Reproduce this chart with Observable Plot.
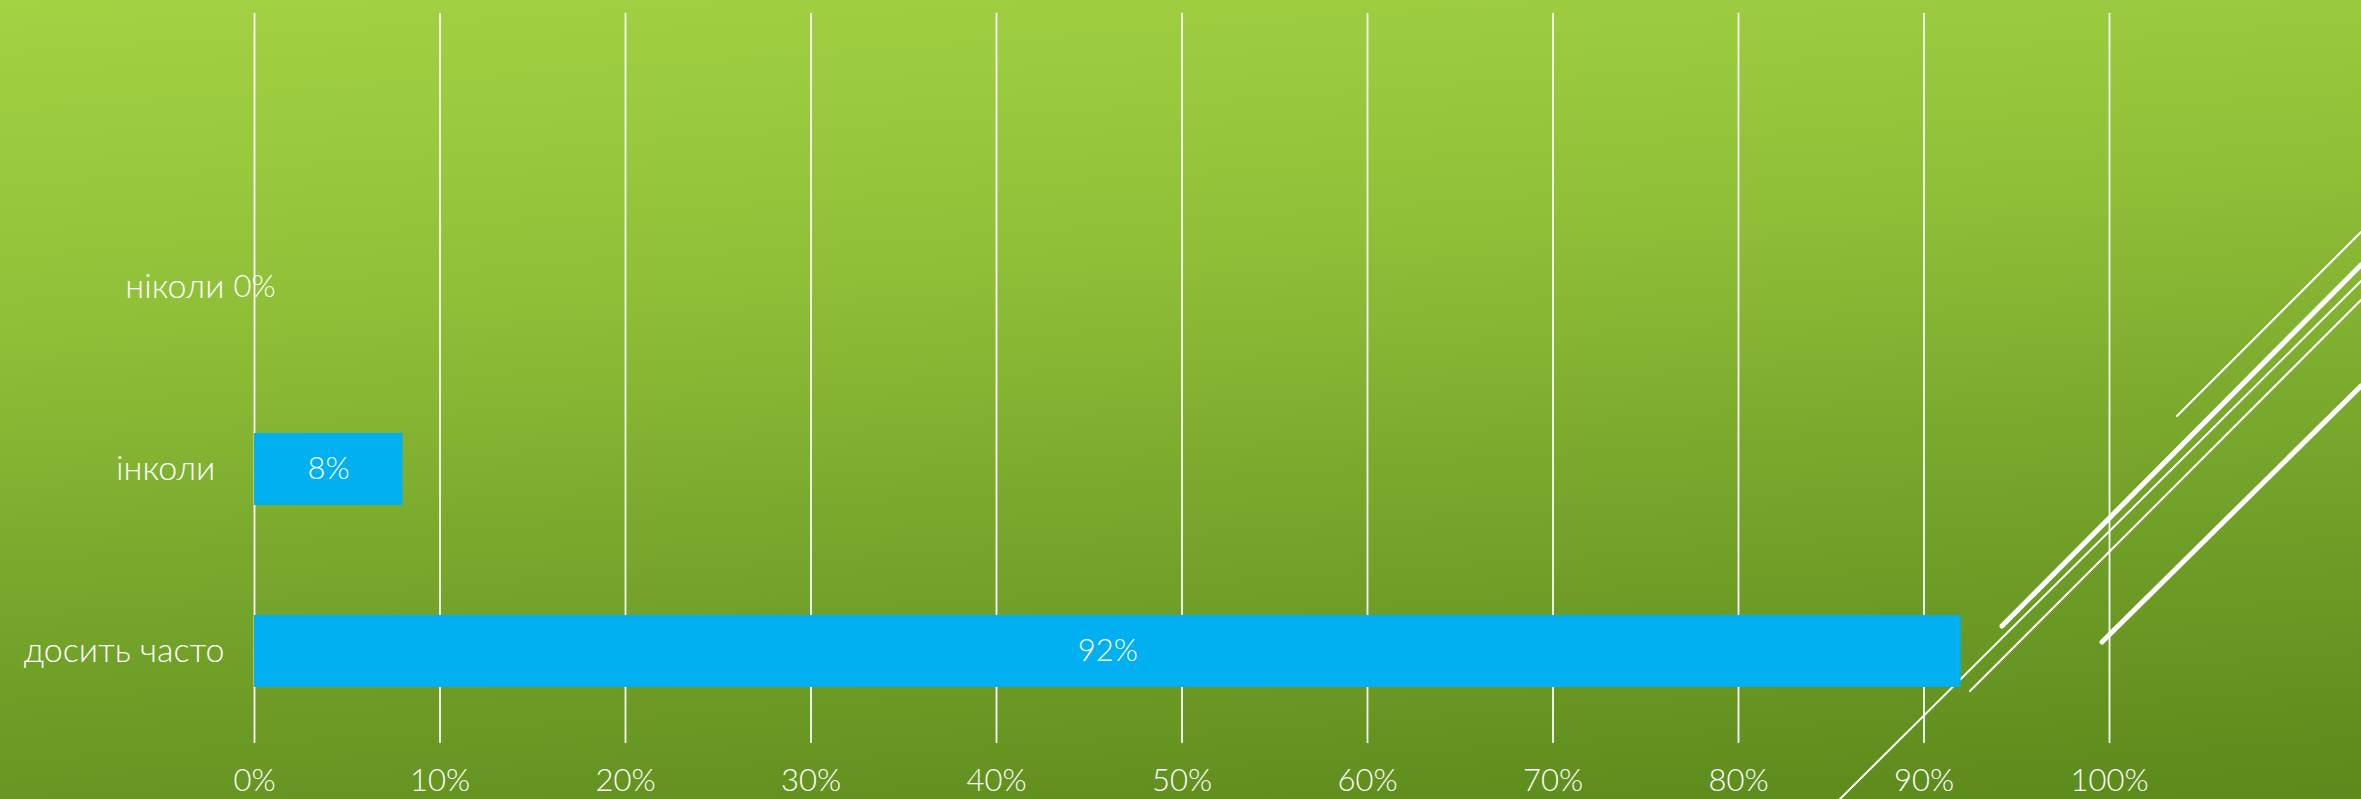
<!DOCTYPE html>
<html>
<head>
<meta charset="utf-8">
<script src="https://cdn.jsdelivr.net/npm/d3@7"></script>
<script src="https://cdn.jsdelivr.net/npm/@observablehq/plot@0.6"></script>
<style>
  html, body { margin: 0; padding: 0; width: 2361px; height: 799px; overflow: hidden; }
  body { background: linear-gradient(176deg, #a3d343 0%, #8fbf37 35%, #74a42a 65%, #5b891b 100%); position: relative; }
  #deco { position: absolute; left: 0; top: 0; }
  #chart { position: absolute; left: 0; top: 0; }
</style>
</head>
<body>
<!-- slide template decoration (background artwork, not chart data) -->
<svg id="deco" width="2361" height="799" viewBox="0 0 2361 799">
  <g stroke="white" fill="none" stroke-linecap="round">
    <line x1="1838" y1="801" x2="2361" y2="281" stroke-width="2"/>
    <line x1="2002" y1="626" x2="2361" y2="265" stroke-width="5"/>
    <line x1="1970" y1="691" x2="2361" y2="300" stroke-width="2"/>
    <line x1="2102" y1="642" x2="2361" y2="386" stroke-width="5"/>
    <line x1="2177" y1="416" x2="2361" y2="232" stroke-width="2"/>
  </g>
</svg>
<div id="chart"></div>
<script>
const categories = ["ніколи", "інколи\u00a0", "досить часто"];
const values = [0, 8, 92];
const xTicks = [0, 10, 20, 30, 40, 50, 60, 70, 80, 90, 100];

const data = categories.map((c, i) => ({category: c, value: values[i]}));

const chart = Plot.plot({
  width: 2361,
  height: 799,
  marginTop: 13,
  marginBottom: 56,
  marginLeft: 254,
  marginRight: 252,
  style: {
    background: "transparent",
    color: "white",
    fontFamily: "Lato, 'Noto Sans', sans-serif",
    fontWeight: 300,
    fontSize: "31px"
  },
  x: {domain: [0, 100], label: null},
  y: {domain: categories, insetTop: 182.5, paddingInner: 0.6055, paddingOuter: 0.303, align: 0.5, label: null},
  marks: [
    Plot.gridX(xTicks, {stroke: "white", strokeOpacity: 1, strokeWidth: 1.75}),
    Plot.axisX(xTicks, {tickFormat: d => d + "%", tickSize: 0, tickPadding: 25, fontSize: 31, fill: "white", label: null}),
    Plot.axisY({tickSize: 0, tickPadding: 30, fontSize: 34, fill: "white", label: null}),
    Plot.barX(data, {x: "value", y: "category", fill: "#00b0f0"}),
    Plot.text(data, {x: d => d.value / 2, y: "category", text: d => d.value + "%", fill: "white", fontSize: 31})
  ]
});
document.getElementById("chart").appendChild(chart);
</script>
</body>
</html>
